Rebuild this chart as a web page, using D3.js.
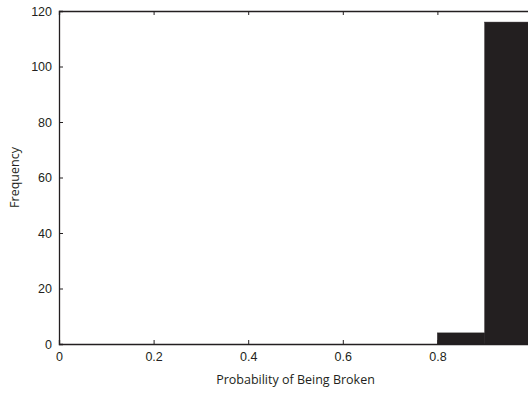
<!DOCTYPE html>
<html>
<head>
<meta charset="utf-8">
<script src="https://cdn.jsdelivr.net/npm/d3@7"></script>
<style>
  html, body { margin: 0; padding: 0; background: #fff; overflow: hidden; }
  svg { display: block; font-family: "Open Sans", "Lato", sans-serif; }
</style>
</head>
<body>
<script>
  // histogram bins (left edges) and counts
  const binEdges = [0, 0.1, 0.2, 0.3, 0.4, 0.5, 0.6, 0.7, 0.8, 0.9];
  const counts = [0, 0, 0, 0, 0, 0, 0, 0, 4, 116];
  const xTicks = [0, 0.2, 0.4, 0.6, 0.8, 1];
  const xTickLabels = ['0', '0.2', '0.4', '0.6', '0.8', ''];
  const yTicks = [0, 20, 40, 60, 80, 100, 120];

  const w = 528, h = 393;
  const padLeft = 59, padRight = 532, padTop = 11, padBottom = 344;
  const binWidth = 0.1;
  const ink = '#231f20';

  const xScale = d3.scaleLinear().domain([0, 1]).range([padLeft, padRight]);
  const yScale = d3.scaleLinear().domain([0, 120]).range([padBottom, padTop]);

  const svg = d3.select('body')
    .append('svg')
    .attr('width', w)
    .attr('height', h);

  // bars
  svg.selectAll('rect.bar')
    .data(counts)
    .enter()
    .append('rect')
    .attr('class', 'bar')
    .attr('x', (d, i) => xScale(binEdges[i]))
    .attr('y', d => yScale(d))
    .attr('width', (d, i) => xScale(binEdges[i] + binWidth) - xScale(binEdges[i]))
    .attr('height', d => yScale(0) - yScale(d))
    .attr('fill', ink)
    .attr('stroke', ink)
    .attr('stroke-width', 0.5);

  // axes, ticks pointing inward (matlab style)
  const xAxis = d3.axisBottom(xScale).tickValues(xTicks).tickSize(-4).tickPadding(8)
    .tickFormat((d, i) => xTickLabels[i]);
  const yAxis = d3.axisLeft(yScale).tickValues(yTicks).tickSize(-4).tickPadding(7);
  const xTop = d3.axisTop(xScale).tickValues(xTicks).tickSize(-4).tickFormat('');

  const gx = svg.append('g')
    .attr('transform', 'translate(0,' + padBottom + ')')
    .call(xAxis);
  const gy = svg.append('g')
    .attr('transform', 'translate(' + padLeft + ',0)')
    .call(yAxis);
  const gt = svg.append('g')
    .attr('transform', 'translate(0,' + padTop + ')')
    .call(xTop);

  [gx, gy, gt].forEach(g => {
    g.select('.domain').attr('stroke', ink).attr('stroke-width', 1.3);
    g.selectAll('.tick line').attr('stroke', ink);
    g.selectAll('.tick text').attr('fill', ink).style('font-size', '12.5px');
  });

  svg.append('text')
    .attr('x', (padLeft + padRight) / 2)
    .attr('y', 384)
    .attr('text-anchor', 'middle')
    .attr('fill', ink)
    .style('font-size', '12.5px')
    .text('Probability of Being Broken');

  svg.append('text')
    .attr('transform', 'translate(19,' + ((padTop + padBottom) / 2) + ') rotate(-90)')
    .attr('text-anchor', 'middle')
    .attr('fill', ink)
    .style('font-size', '12.5px')
    .text('Frequency');
</script>
</body>
</html>
